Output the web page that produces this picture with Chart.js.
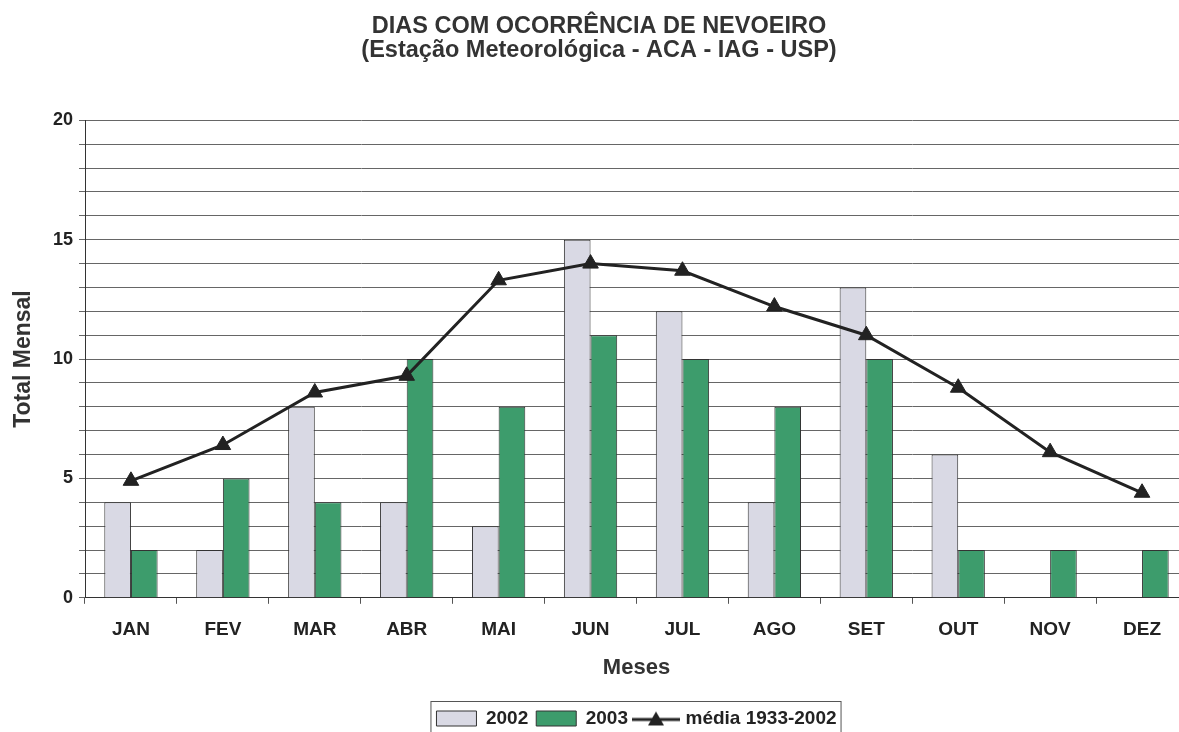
<!DOCTYPE html>
<html>
<head>
<meta charset="utf-8">
<script src="https://cdn.jsdelivr.net/npm/chart.js@4.4.0/dist/chart.umd.min.js"></script>
<style>
  html, body { margin: 0; padding: 0; background: #fff; overflow: hidden; }
  #wrap { width: 1179px; height: 732px; overflow: hidden; }
</style>
</head>
<body>
<div id="wrap"><canvas id="fogChart" width="1188" height="738"></canvas></div>
<script>
const months = ['JAN', 'FEV', 'MAR', 'ABR', 'MAI', 'JUN', 'JUL', 'AGO', 'SET', 'OUT', 'NOV', 'DEZ'];
const days2002 = [4, 2, 8, 4, 3, 15, 12, 4, 13, 6, 0, 0];
const days2003 = [2, 5, 4, 10, 8, 11, 10, 8, 10, 2, 2, 2];
const media = [4.9, 6.4, 8.6, 9.3, 13.3, 14.0, 13.7, 12.2, 11.0, 8.8, 6.1, 4.4];
const yTicks = [0, 5, 10, 15, 20];
const legendOrder = ['2002', '2003', 'média 1933-2002'];

const font = "'Liberation Sans', Arial, sans-serif";

// legend symbol for the line series: short line with a triangle on it
const lineIcon = document.createElement('canvas');
lineIcon.width = 48; lineIcon.height = 18;
(function () {
  const c = lineIcon.getContext('2d');
  c.strokeStyle = '#222'; c.lineWidth = 3;
  c.beginPath(); c.moveTo(0, 10); c.lineTo(48, 10); c.stroke();
  c.fillStyle = '#222';
  c.beginPath(); c.moveTo(24, 2); c.lineTo(32, 16); c.lineTo(16, 16); c.closePath(); c.fill();
})();

const legendBox = {
  id: 'legendBox',
  afterDraw(chart) {
    const boxes = chart.legend.legendHitBoxes;
    if (!boxes || !boxes.length) return;
    const ctx = chart.ctx;
    const left = boxes[0].left - 6;
    const last = boxes[boxes.length - 1];
    const right = last.left + last.width + 4;
    const top = boxes[0].top - 8;
    ctx.save();
    ctx.strokeStyle = '#555';
    ctx.lineWidth = 1;
    ctx.strokeRect(left + 0.5, top + 0.5, right - left, 40);
    ctx.restore();
  }
};

const fogChart = new Chart(document.getElementById('fogChart').getContext('2d'), {
  type: 'bar',
  data: {
    labels: months,
    datasets: [{
      type: 'line',
      label: 'média 1933-2002',
      data: media,
      borderColor: '#222',
      backgroundColor: '#222',
      borderWidth: 3,
      pointStyle: 'triangle',
      pointRadius: 9,
      pointBorderWidth: 1,
      tension: 0,
      order: 0
    }, {
      label: '2002',
      data: days2002,
      backgroundColor: '#d9d9e4',
      borderColor: '#333',
      borderWidth: 1,
      order: 1
    }, {
      label: '2003',
      data: days2003,
      backgroundColor: '#3d9c6c',
      borderColor: '#333',
      borderWidth: 1,
      order: 1
    }]
  },
  options: {
    responsive: false,
    animation: false,
    datasets: { bar: { categoryPercentage: 0.58, barPercentage: 1 } },
    layout: { autoPadding: false, padding: { left: 10, right: 0, top: 0, bottom: 0 } },
    plugins: {
      title: {
        display: true,
        text: ['DIAS COM OCORRÊNCIA DE NEVOEIRO', '(Estação Meteorológica - ACA - IAG - USP)'],
        color: '#333',
        font: { family: font, size: 23.5, weight: 'bold', lineHeight: 1.05 },
        padding: { top: 14, bottom: 57 }
      },
      legend: {
        position: 'bottom',
        fullSize: false,
        labels: {
          color: '#222',
          font: { family: font, size: 19, weight: 'bold' },
          usePointStyle: true,
          pointStyleWidth: 40,
          boxHeight: 15,
          padding: 8,
          sort: (a, b) => legendOrder.indexOf(a.text) - legendOrder.indexOf(b.text),
          generateLabels(chart) {
            const items = Chart.defaults.plugins.legend.labels.generateLabels(chart);
            items.forEach(it => {
              it.pointStyle = it.text === 'média 1933-2002' ? lineIcon : 'rect';
            });
            return items;
          }
        }
      },
      tooltip: { enabled: false }
    },
    scales: {
      x: {
        grid: { display: true, drawOnChartArea: false, offset: true, color: '#555', tickLength: 6 },
        border: { color: '#333', width: 1 },
        ticks: { color: '#222', font: { family: font, size: 19, weight: 'bold' }, padding: 15 },
        title: { display: true, text: 'Meses', color: '#333', font: { family: font, size: 22, weight: 'bold' }, padding: { top: -2, bottom: 20 } }
      },
      y: {
        min: 0,
        max: 20,
        ticks: {
          stepSize: 1,
          autoSkip: false,
          color: '#222',
          font: { family: font, size: 18, weight: 'bold' },
          padding: 6,
          callback: v => yTicks.includes(v) ? v : ''
        },
        grid: { color: '#666', lineWidth: 1, tickLength: 6 },
        border: { color: '#333', width: 1 },
        title: { display: true, text: 'Total Mensal', color: '#333', font: { family: font, size: 23, weight: 'bold' }, padding: { top: 0, bottom: 6 } },
        afterFit: scale => { scale.width = 75; }
      }
    }
  },
  plugins: [legendBox]
});
</script>
</body>
</html>
